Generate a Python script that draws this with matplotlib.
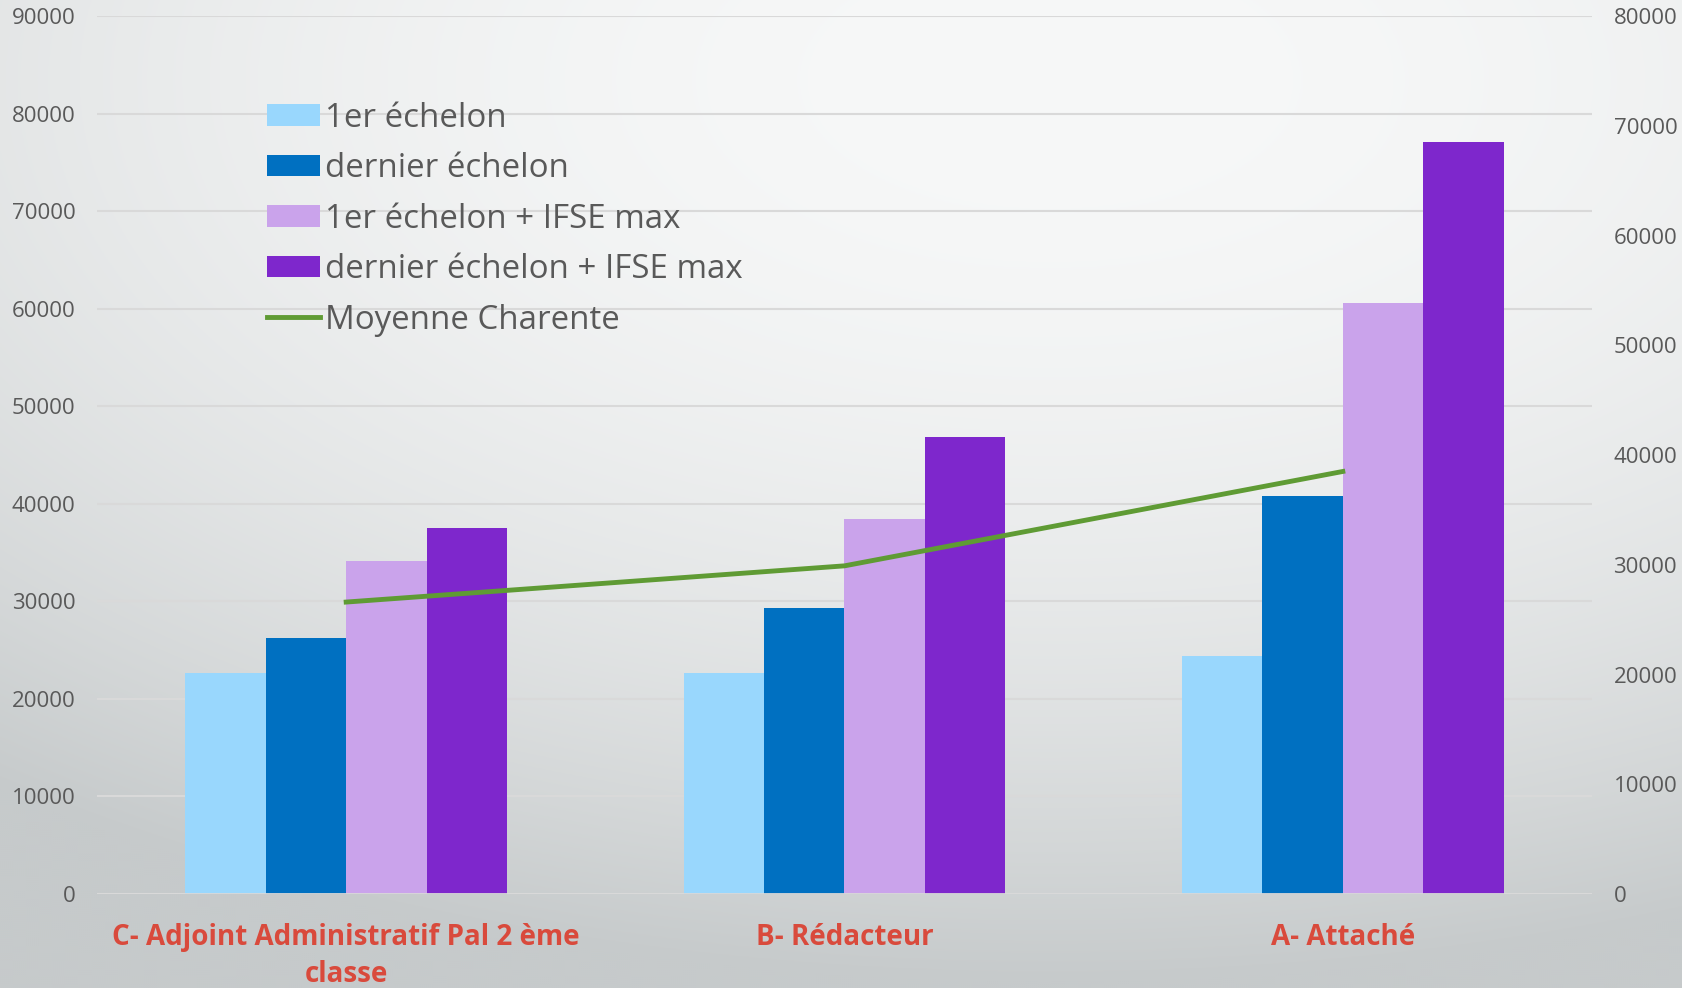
import numpy as np
from matplotlib import pyplot as plt

categories = ["C- Adjoint Administratif Pal 2 ème\nclasse", "B- Rédacteur", "A- Attaché"]
series_names = ["1er échelon", "dernier échelon", "1er échelon + IFSE max", "dernier échelon + IFSE max"]
premier = [22700, 22700, 24400]
dernier = [26200, 29300, 40800]
premier_ifse = [34100, 38400, 60600]
dernier_ifse = [37500, 46800, 77100]
moyenne_charente = [26600, 29900, 38500]

bar_colors = ["#99d7fd", "#0070c1", "#caa3eb", "#7e27cc"]
line_color = "#5f9b34"
text_grey = "#595959"
label_red = "#d94a3c"

plt.rcParams['font.family'] = ['Open Sans', 'DejaVu Sans']

fig = plt.figure(figsize=(16.83, 9.88), dpi=100)

# soft background: bright spot near the top, greyer toward the bottom
bg = fig.add_axes([0, 0, 1, 1], zorder=-10)
h, w = 494, 842
yy, xx = np.mgrid[0:h, 0:w]
dx = (xx * 2 - 1050) / 1700
dy = (yy * 2 - 80) / 900
t = np.clip(np.sqrt(dx ** 2 + dy ** 2), 0, 1) ** 2
bright = np.array([247, 248, 248]) / 255
dark = np.array([198, 202, 203]) / 255
img = bright[None, None, :] * (1 - t[..., None]) + dark[None, None, :] * t[..., None]
bg.imshow(img, aspect="auto", extent=[0, 1, 0, 1], origin="upper")
bg.axis("off")

ax = fig.add_axes([97 / 1683, 94 / 988, 1495 / 1683, 878 / 988])
ax.patch.set_alpha(0)
ax2 = ax.twinx()

x = np.arange(len(categories))
width = 0.1615
all_series = [premier, dernier, premier_ifse, dernier_ifse]
handles = []
for i, (vals, name, col) in enumerate(zip(all_series, series_names, bar_colors)):
    b = ax.bar(x + (i - 1.5) * width, vals, width, color=col, label=name, zorder=3)
    handles.append(b)

ax.set_xlim(-0.5, 2.5)
ax.set_ylim(0, 90000)
ax.set_yticks(np.arange(0, 90001, 10000))
ax.yaxis.grid(True, color="#d9d9d9", linewidth=1.5, zorder=0)
ax.set_axisbelow(True)
for s in ax.spines.values():
    s.set_visible(False)
for s in ax2.spines.values():
    s.set_visible(False)
ax.axhline(0, color="#d9d9d9", linewidth=2, zorder=4)

ax.tick_params(axis="y", length=0, pad=15.5, labelsize=16, labelcolor=text_grey)
ax.set_xticks(x)
ax.set_xticklabels(categories, color=label_red, fontsize=20, fontweight="bold", linespacing=1.35)
ax.tick_params(axis="x", length=0, pad=21)

ln, = ax2.plot(x, moyenne_charente, color=line_color, linewidth=3.5, label="Moyenne Charente", zorder=5)
ax2.set_ylim(0, 80000)
ax2.set_yticks(np.arange(0, 80001, 10000))
ax2.tick_params(axis="y", length=0, pad=15.5, labelsize=16, labelcolor=text_grey)

leg = ax2.legend(handles + [ln], series_names + ["Moyenne Charente"],
                 loc="upper left", bbox_to_anchor=(0.114, 0.9025),
                 frameon=False, fontsize=23.8, labelcolor=text_grey,
                 handlelength=1.58, handleheight=0.63, handletextpad=0.15,
                 labelspacing=0.53, borderaxespad=0, borderpad=0)

fig.savefig("out.png", dpi=100)
